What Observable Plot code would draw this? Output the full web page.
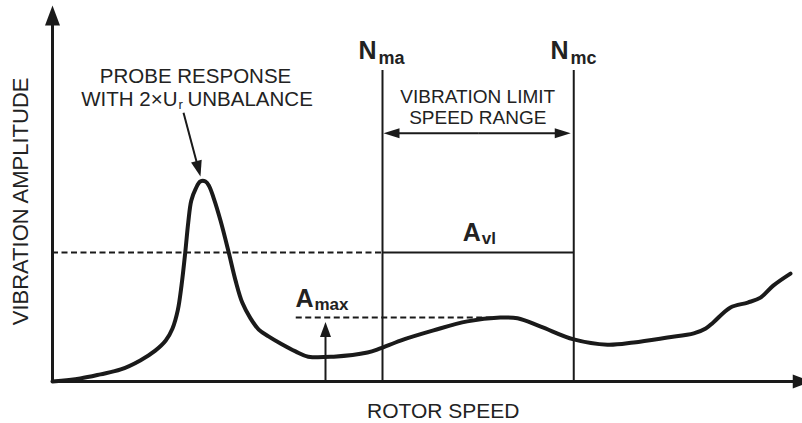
<!DOCTYPE html>
<html><head><meta charset="utf-8">
<script src="https://cdn.jsdelivr.net/npm/d3@7"></script>
<script src="https://cdn.jsdelivr.net/npm/@observablehq/plot@0.6"></script>
<style>body{margin:0;background:#fff}svg{display:block}</style>
</head><body><div id="chart"></div><script>
// Rotor speed (arbitrary units, 0–100) and vibration amplitude (arbitrary units, 0–100)
const speed = [0, 3.7, 6.4, 9.1, 11.7, 13.7, 15.1, 16.0, 16.7, 17.2, 17.7, 18.1, 18.5, 19.1, 19.7, 20.4, 20.9, 21.5, 22.4, 23.5, 24.4, 25.3, 26.4, 27.5, 28.8, 30.4, 32.4, 34.1, 37.5, 42.0, 43.7, 46.4, 50.8, 55.3, 59.7, 62.0, 65.1, 69.5, 74.0, 77.5, 82.0, 85.5, 87.1, 88.1, 90.4, 92.7, 94.4, 96.1, 98.4];
const amplitude = [0, 0.8, 1.9, 3.2, 5.6, 8.2, 10.9, 14.1, 18.9, 25.5, 34.3, 42.3, 48.1, 51.3, 53.2, 53.2, 51.9, 48.7, 42.8, 34.3, 26.9, 21.0, 16.8, 13.8, 12.0, 10.1, 8.0, 6.6, 6.6, 7.7, 8.8, 10.9, 13.6, 16.0, 17.0, 16.8, 14.6, 11.2, 9.8, 10.4, 11.7, 12.8, 14.1, 15.7, 19.7, 21.0, 22.3, 25.5, 28.7];
const speedRange = [44, 69.5];          // N_ma, N_mc
const vibrationLimit = 34.3;            // A_vl
const aMax = 17;                        // A_max
const aMaxSpan = [32.5, 59.7];
const aMaxArrowX = 36.4;
const nLineTop = 82.7;
const rangeArrowY = 66;
const probePointer = {x1: 17.47, y1: 71.5, x2: 19.73, y2: 54.5};
const xAxisEnd = 101.1;
const yAxisEnd = 100;

const W = 802, H = 423, mL = 52, mR = 0, mT = 5, mB = 42;
const pxX = (W - mL - mR) / 100, pxY = (H - mT - mB) / 100;
const ink = "#1a1a1a", txt = "#222";
const font = "'Liberation Sans', Arial, sans-serif";

const curveData = speed.map((s, i) => ({s, a: amplitude[i]}));

function head(len, w) {
  return {draw(ctx) { ctx.moveTo(0, 0); ctx.lineTo(w / 2, len); ctx.lineTo(-w / 2, len); ctx.closePath(); }};
}
// arrow: shaft + filled head, tip at (x2,y2)
function arrow(a, len, w, sw) {
  const dx = (a.x2 - a.x1) * pxX, dy = -(a.y2 - a.y1) * pxY;
  const L = Math.hypot(dx, dy);
  const ang = Math.atan2(dx, -dy) * 180 / Math.PI;
  const f = (L - len + 1) / L;
  const shaft = {x1: a.x1, y1: a.y1, x2: a.x1 + (a.x2 - a.x1) * f, y2: a.y1 + (a.y2 - a.y1) * f};
  return [
    Plot.link([shaft], {x1: "x1", y1: "y1", x2: "x2", y2: "y2", stroke: ink, strokeWidth: sw}),
    Plot.dot([a], {x: "x2", y: "y2", symbol: head(len, w), rotate: ang, fill: ink, stroke: "none"})
  ];
}

const T = (data, o) => Plot.text(data, {fill: txt, fontFamily: font, lineAnchor: "bottom", ...o});

const plot = Plot.plot({
  width: W, height: H,
  marginLeft: mL, marginRight: mR, marginTop: mT, marginBottom: mB,
  x: {domain: [0, 100], axis: null},
  y: {domain: [0, 100], axis: null},
  style: {background: "#fff", overflow: "hidden"},
  marks: [
    // limit lines
    Plot.ruleY([vibrationLimit], {x1: 0, x2: speedRange[0], stroke: ink, strokeWidth: 2, strokeDasharray: "6,3.5"}),
    Plot.ruleY([vibrationLimit], {x1: speedRange[0], x2: speedRange[1], stroke: ink, strokeWidth: 2}),
    Plot.ruleY([aMax], {x1: aMaxSpan[0], x2: aMaxSpan[1], stroke: ink, strokeWidth: 2, strokeDasharray: "6,3.5"}),
    Plot.ruleX(speedRange, {y1: 0, y2: nLineTop, stroke: ink, strokeWidth: 2}),
    // axes
    ...arrow({x1: 0, y1: 0, x2: 0, y2: yAxisEnd}, 20, 15, 3),
    ...arrow({x1: 0, y1: 0, x2: xAxisEnd, y2: 0}, 18, 14, 3),
    // response curve
    Plot.line(curveData, {x: "s", y: "a", curve: "catmull-rom", stroke: ink, strokeWidth: 4, strokeLinecap: "round", strokeLinejoin: "round"}),
    // arrows
    ...arrow({x1: aMaxArrowX, y1: 0, x2: aMaxArrowX, y2: aMax - 4.5 / pxY}, 15, 11, 2),
    ...arrow({x1: (speedRange[0] + speedRange[1]) / 2, y1: rangeArrowY, x2: speedRange[0] + 1 / pxX, y2: rangeArrowY}, 16, 10, 2),
    ...arrow({x1: (speedRange[0] + speedRange[1]) / 2, y1: rangeArrowY, x2: speedRange[1] - 3 / pxX, y2: rangeArrowY}, 16, 10, 2),
    ...arrow(probePointer, 16, 11, 2),
    // text
    T(["VIBRATION AMPLITUDE"], {x: -4.27, y: 47.9, rotate: -90, lineAnchor: "middle", textAnchor: "middle", fontSize: 22}),
    T(["ROTOR SPEED"], {x: 52.1, y: -9.8, textAnchor: "middle", fontSize: 21}),
    T(["PROBE RESPONSE"], {x: 19.07, y: 79.3, textAnchor: "middle", fontSize: 20.5}),
    T(["WITH 2×U"], {x: 16.67, y: 73.4, textAnchor: "end", fontSize: 20.5}),
    T(["r"], {x: 16.8, y: 73.4, dy: 3, textAnchor: "start", fontSize: 13}),
    T(["UNBALANCE"], {x: 18.0, y: 73.4, textAnchor: "start", fontSize: 20.5}),
    T(["VIBRATION LIMIT"], {x: 56.7, y: 74.2, textAnchor: "middle", fontSize: 19}),
    T(["SPEED RANGE"], {x: 56.7, y: 68.6, textAnchor: "middle", fontSize: 19}),
    T(["N"], {x: 40.8, y: 85.9, textAnchor: "start", fontSize: 25, fontWeight: "bold"}),
    T(["ma"], {x: 40.8, y: 85.9, dx: 20, dy: 5, textAnchor: "start", fontSize: 18, fontWeight: "bold"}),
    T(["N"], {x: 66.4, y: 85.9, textAnchor: "start", fontSize: 25, fontWeight: "bold"}),
    T(["mc"], {x: 66.4, y: 85.9, dx: 20, dy: 5, textAnchor: "start", fontSize: 18, fontWeight: "bold"}),
    T(["A"], {x: 54.7, y: 37.5, textAnchor: "start", fontSize: 25, fontWeight: "bold"}),
    T(["vl"], {x: 54.7, y: 37.5, dx: 19, dy: 3, textAnchor: "start", fontSize: 17, fontWeight: "bold"}),
    T(["A"], {x: 32.4, y: 19.9, textAnchor: "start", fontSize: 25, fontWeight: "bold"}),
    T(["max"], {x: 32.4, y: 19.9, dx: 19, dy: 3, textAnchor: "start", fontSize: 17, fontWeight: "bold"})
  ]
});
document.getElementById("chart").append(plot);
</script></body></html>
